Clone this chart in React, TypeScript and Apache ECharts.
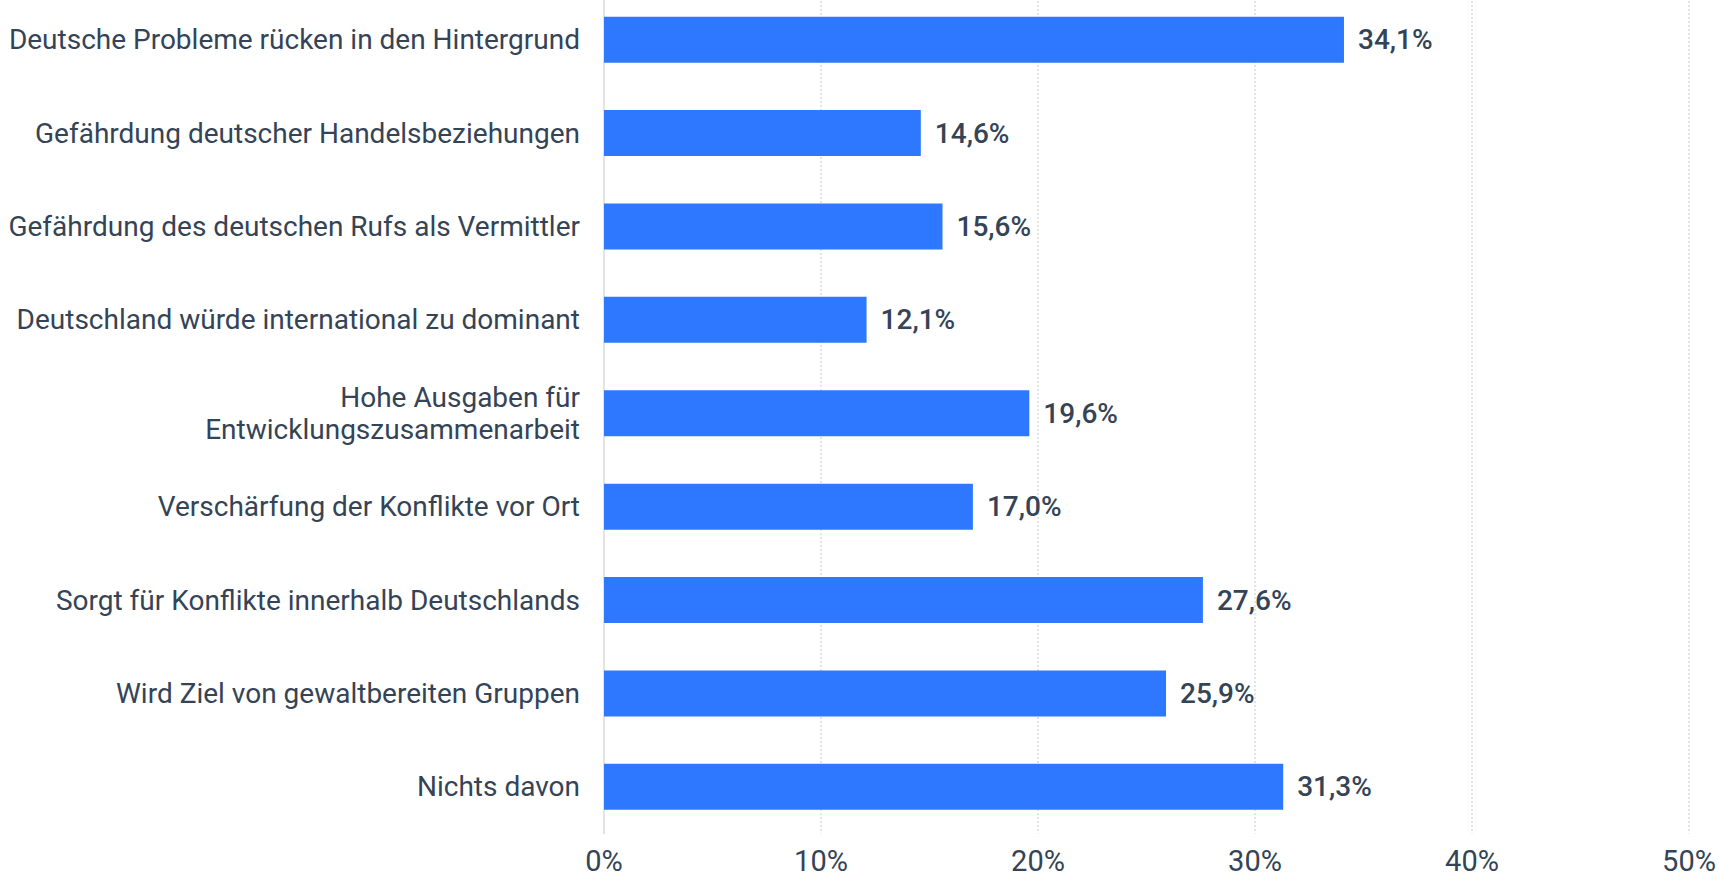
import React, { useEffect, useRef } from "react";
import * as echarts from "echarts";

const categories = [
  "Deutsche Probleme rücken in den Hintergrund",
  "Gefährdung deutscher Handelsbeziehungen",
  "Gefährdung des deutschen Rufs als Vermittler",
  "Deutschland würde international zu dominant",
  "Hohe Ausgaben für\nEntwicklungszusammenarbeit",
  "Verschärfung der Konflikte vor Ort",
  "Sorgt für Konflikte innerhalb Deutschlands",
  "Wird Ziel von gewaltbereiten Gruppen",
  "Nichts davon",
];
const values = [34.1, 14.6, 15.6, 12.1, 19.6, 17.0, 27.6, 25.9, 31.3];
const axisTicks = [0, 10, 20, 30, 40, 50];

const TEXT = "#344456";

export default function App() {
  const ref = useRef<HTMLDivElement>(null);
  useEffect(() => {
    if (!ref.current) return;
    const chart = echarts.init(ref.current, undefined, { renderer: "svg" });
    chart.setOption({
      animation: false,
      grid: { left: 604, right: 30, top: 1, bottom: 39, containLabel: false },
      xAxis: {
        type: "value",
        min: axisTicks[0],
        max: axisTicks[axisTicks.length - 1],
        interval: 10,
        axisLine: { show: false },
        axisTick: { show: false },
        splitLine: { show: true, lineStyle: { color: "#dcdcdc", type: [2, 2], width: 1.5 } },
        axisLabel: {
          formatter: (v: number) => `${v}%`,
          color: TEXT,
          fontFamily: "Roboto",
          fontSize: 29,
          lineHeight: 22,
          margin: 16,
        },
      },
      yAxis: {
        type: "category",
        data: categories,
        inverse: true,
        axisLine: { show: true, lineStyle: { color: "#e3e3e3", width: 2 } },
        axisTick: { show: false },
        axisLabel: {
          color: TEXT,
          fontFamily: "Roboto",
          fontSize: 28,
          margin: 24,
          lineHeight: 32,
          align: "right",
        },
      },
      series: [
        {
          type: "bar",
          data: values,
          barWidth: 46,
          itemStyle: { color: "#2e78ff" },
          label: {
            show: true,
            position: "right",
            distance: 14,
            color: TEXT,
            fontFamily: "Roboto",
            fontWeight: 500,
            fontSize: 28,
            formatter: (p: any) => `${p.value.toFixed(1).replace(".", ",")}%`,
          },
        },
      ],
    });
    return () => chart.dispose();
  }, []);
  return <div ref={ref} style={{ width: 1719, height: 883, position: "absolute", left: 0, top: -8 }} />;
}
